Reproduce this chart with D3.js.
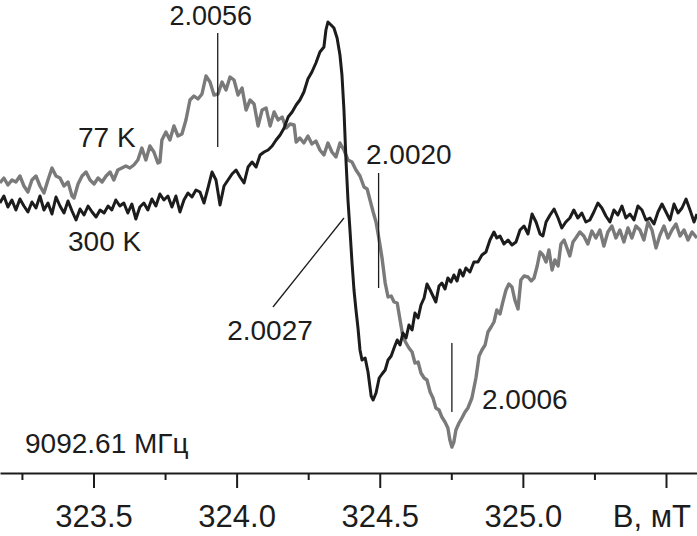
<!DOCTYPE html>
<html><head><meta charset="utf-8">
<script src="https://cdn.jsdelivr.net/npm/d3@7"></script>
<style>
html,body{margin:0;padding:0;background:#fff;}
svg{display:block;}
text{font-family:"Liberation Sans",Arial,sans-serif;fill:#1c1c1c;}
</style></head>
<body>
<script>
// EPR spectrum at 300 K: [B (mT), intensity (a.u.)]
const spectrum300K = [
[323.173,27],[323.187,34],[323.201,23],[323.215,30],[323.229,20],[323.243,31],[323.257,24],[323.271,18],
[323.285,28],[323.299,22],[323.313,34],[323.327,20],[323.341,27],[323.355,16],[323.369,33],[323.383,24],
[323.397,17],[323.411,29],[323.425,19],[323.439,10],[323.453,21],[323.467,15],[323.481,24],[323.495,18],
[323.509,13],[323.523,20],[323.537,17],[323.551,24],[323.564,20],[323.578,30],[323.592,24],[323.606,27],
[323.620,17],[323.634,26],[323.648,11],[323.662,23],[323.676,27],[323.690,20],[323.704,31],[323.718,24],
[323.732,36],[323.746,30],[323.760,34],[323.774,23],[323.788,34],[323.802,18],[323.816,30],[323.830,37],
[323.844,33],[323.858,40],[323.872,38],[323.886,27],[323.900,42],[323.914,58],[323.928,50],[323.942,25],
[323.956,44],[323.970,50],[323.984,56],[323.998,60],[324.012,53],[324.026,47],[324.040,63],[324.054,68],
[324.068,63],[324.082,75],[324.096,78],[324.110,80],[324.124,84],[324.138,90],[324.152,95],[324.166,102],
[324.180,113],[324.194,118],[324.208,125],[324.221,130],[324.235,138],[324.249,151],[324.263,158],[324.277,167],
[324.291,178],[324.305,183],[324.312,200],[324.319,208],[324.330,205],[324.340,202],[324.351,192],[324.361,175],
[324.368,155],[324.375,120],[324.382,70],[324.389,30],[324.396,0],[324.403,-32],[324.410,-60],[324.417,-80],
[324.424,-98],[324.431,-120],[324.438,-130],[324.449,-128],[324.459,-142],[324.470,-166],[324.477,-170],[324.487,-163],
[324.498,-148],[324.508,-144],[324.519,-140],[324.529,-130],[324.540,-126],[324.550,-118],[324.561,-110],[324.571,-115],
[324.581,-103],[324.592,-108],[324.602,-95],[324.613,-100],[324.623,-83],[324.634,-88],[324.644,-75],[324.655,-68],
[324.665,-54],[324.676,-60],[324.686,-66],[324.696,-72],[324.707,-56],[324.717,-53],[324.728,-59],[324.738,-48],
[324.749,-52],[324.759,-45],[324.770,-51],[324.780,-40],[324.791,-46],[324.801,-38],[324.815,-42],[324.829,-32],
[324.843,-32],[324.857,-25],[324.871,-22],[324.885,-10],[324.899,-2],[324.909,-8],[324.920,-6],[324.934,-14],
[324.948,-10],[324.962,-15],[324.976,-12],[324.990,0],[325.004,4],[325.018,-4],[325.032,16],[325.046,8],
[325.060,-4],[325.070,-6],[325.081,8],[325.095,15],[325.109,21],[325.123,12],[325.136,2],[325.150,8],
[325.164,12],[325.178,20],[325.192,12],[325.206,17],[325.220,8],[325.234,10],[325.248,18],[325.262,27],
[325.276,22],[325.290,14],[325.304,8],[325.318,20],[325.332,15],[325.346,24],[325.360,12],[325.374,16],
[325.388,10],[325.402,24],[325.416,20],[325.430,10],[325.444,12],[325.458,6],[325.472,18],[325.486,26],
[325.500,18],[325.514,10],[325.528,26],[325.542,17],[325.556,22],[325.570,31],[325.584,20],[325.598,8],[325.608,16]
];
// EPR spectrum at 77 K: [B (mT), intensity (a.u.)]
const spectrum77K = [
[323.173,47],[323.187,52],[323.201,45],[323.215,50],[323.229,48],[323.243,54],[323.257,44],[323.271,38],
[323.285,50],[323.299,54],[323.313,44],[323.327,37],[323.341,50],[323.355,62],[323.369,54],[323.383,52],
[323.397,44],[323.411,48],[323.425,34],[323.432,32],[323.446,46],[323.460,54],[323.474,58],[323.488,50],
[323.502,46],[323.516,52],[323.530,48],[323.544,54],[323.558,58],[323.571,50],[323.585,60],[323.599,62],
[323.613,64],[323.627,62],[323.641,65],[323.655,70],[323.669,82],[323.683,70],[323.697,84],[323.711,78],
[323.725,67],[323.732,68],[323.739,90],[323.753,98],[323.767,90],[323.781,104],[323.795,94],[323.809,96],
[323.823,110],[323.837,130],[323.851,134],[323.865,131],[323.879,136],[323.893,154],[323.907,148],[323.921,135],
[323.935,136],[323.949,148],[323.963,140],[323.977,153],[323.991,150],[324.005,135],[324.019,142],[324.033,120],
[324.047,130],[324.061,126],[324.075,104],[324.089,120],[324.103,122],[324.117,104],[324.131,118],[324.145,110],
[324.159,113],[324.173,102],[324.187,106],[324.201,105],[324.208,88],[324.221,92],[324.235,87],[324.249,94],
[324.263,86],[324.277,89],[324.291,80],[324.305,75],[324.319,87],[324.333,78],[324.347,73],[324.361,87],
[324.375,80],[324.389,70],[324.403,68],[324.417,60],[324.431,54],[324.445,43],[324.456,41],[324.466,30],
[324.477,18],[324.487,8],[324.498,-10],[324.508,-28],[324.519,-53],[324.529,-67],[324.540,-66],[324.550,-72],
[324.561,-73],[324.571,-90],[324.581,-107],[324.592,-113],[324.602,-118],[324.613,-122],[324.623,-133],[324.634,-132],
[324.644,-143],[324.655,-148],[324.665,-150],[324.676,-162],[324.686,-168],[324.696,-178],[324.707,-180],[324.717,-187],
[324.728,-192],[324.738,-198],[324.745,-210],[324.752,-217],[324.759,-212],[324.766,-200],[324.777,-193],[324.787,-188],
[324.798,-182],[324.808,-178],[324.822,-168],[324.836,-148],[324.847,-126],[324.857,-120],[324.868,-115],[324.878,-102],
[324.889,-97],[324.899,-92],[324.909,-80],[324.920,-84],[324.930,-72],[324.941,-60],[324.951,-54],[324.962,-57],
[324.972,-70],[324.983,-79],[324.993,-50],[325.004,-46],[325.018,-47],[325.029,-51],[325.039,-48],[325.050,-36],
[325.060,-22],[325.070,-25],[325.081,-32],[325.091,-20],[325.102,-40],[325.112,-30],[325.123,-36],[325.133,-14],
[325.144,-10],[325.154,-18],[325.164,-26],[325.175,-12],[325.185,-8],[325.199,-2],[325.213,-6],[325.227,-14],
[325.241,-1],[325.255,-8],[325.269,0],[325.283,-16],[325.297,-2],[325.311,4],[325.325,-8],[325.339,0],
[325.353,-12],[325.367,2],[325.381,-8],[325.395,4],[325.409,0],[325.423,-10],[325.437,8],[325.451,0],
[325.465,-18],[325.479,-5],[325.493,4],[325.507,-8],[325.521,0],[325.535,6],[325.549,-6],[325.563,0],
[325.577,-10],[325.591,-2],[325.608,-8]
];
const majorTicks = [323.5, 324.0, 324.5, 325.0, 325.5];
const minorTicks = [323.25, 323.75, 324.25, 324.75, 325.25];
const axisTitle = "B, мТ";
const seriesLabels = ["77 K", "300 K"];
const frequencyLabel = "9092.61 МГц";
// g-factor markers: [label, B (mT), top intensity, bottom intensity]
const gMarkers = [["2.0056", 323.934, 197, 83], ["2.0020", 324.496, 57, -58], ["2.0006", 324.752, -113, -182]];
// leader for 2.0027: [label, B start, I start, B end, I end]
const g2027 = ["2.0027", 324.127, -77, 324.375, 12];

const W = 697, H = 536;
const svg = d3.select("body").append("svg").attr("width", W).attr("height", H);
const x = d3.scaleLinear().domain([323.1734, 325.6083]).range([0, W]);
const y = d3.scaleLinear().domain([230, -230]).range([0, 460]);
const axisY = 473;

const line = d3.line().x(d => x(d[0])).y(d => y(d[1]));
svg.append("path").datum(spectrum77K).attr("d", line)
  .attr("fill", "none").attr("stroke", "#7a7a7a").attr("stroke-width", 3.4)
  .attr("stroke-linejoin", "round");
svg.append("path").datum(spectrum300K).attr("d", line)
  .attr("fill", "none").attr("stroke", "#1c1c1c").attr("stroke-width", 3)
  .attr("stroke-linejoin", "round");

// axis
const gAx = svg.append("g").attr("transform", `translate(0,${axisY})`)
  .call(d3.axisBottom(x).tickValues(majorTicks).tickSize(15).tickSizeOuter(0).tickPadding(17)
    .tickFormat(d => d === 325.5 ? "" : d3.format(".1f")(d)));
gAx.select(".domain").attr("stroke", "#1c1c1c").attr("stroke-width", 2);
gAx.selectAll(".tick line").attr("stroke", "#1c1c1c").attr("stroke-width", 2);
gAx.selectAll(".tick text").attr("font-size", 31).attr("fill", "#1c1c1c")
  .attr("font-family", "Liberation Sans, Arial, sans-serif");
const gMin = svg.append("g").attr("transform", `translate(0,${axisY})`)
  .call(d3.axisBottom(x).tickValues(minorTicks).tickSize(7).tickSizeOuter(0).tickFormat(""));
gMin.select(".domain").remove();
gMin.selectAll(".tick line").attr("stroke", "#1c1c1c").attr("stroke-width", 2);

svg.append("text").attr("x", 691).attr("y", 527).attr("text-anchor", "end")
  .attr("font-size", 31).text(axisTitle);

// labels
svg.append("text").attr("x", 78).attr("y", 147).attr("font-size", 28).text(seriesLabels[0]);
svg.append("text").attr("x", 68).attr("y", 251).attr("font-size", 28).text(seriesLabels[1]);
svg.append("text").attr("x", 25).attr("y", 453).attr("font-size", 28).text(frequencyLabel);

// g markers
gMarkers.forEach(m => {
  svg.append("line").attr("x1", x(m[1])).attr("x2", x(m[1]))
    .attr("y1", y(m[2])).attr("y2", y(m[3])).attr("stroke", "#1c1c1c").attr("stroke-width", 1.3);
});
svg.append("text").attr("x", x(gMarkers[0][1]) - 7).attr("y", 25).attr("text-anchor", "middle")
  .attr("font-size", 27).text(gMarkers[0][0]);
svg.append("text").attr("x", 366).attr("y", 164).attr("font-size", 28).text(gMarkers[1][0]);
svg.append("text").attr("x", 482).attr("y", 409).attr("font-size", 28).text(gMarkers[2][0]);
svg.append("line").attr("x1", x(g2027[1])).attr("y1", y(g2027[2]))
  .attr("x2", x(g2027[3])).attr("y2", y(g2027[4])).attr("stroke", "#1c1c1c").attr("stroke-width", 1.3);
svg.append("text").attr("x", 270).attr("y", 340).attr("text-anchor", "middle")
  .attr("font-size", 28).text(g2027[0]);
</script>
</body></html>
